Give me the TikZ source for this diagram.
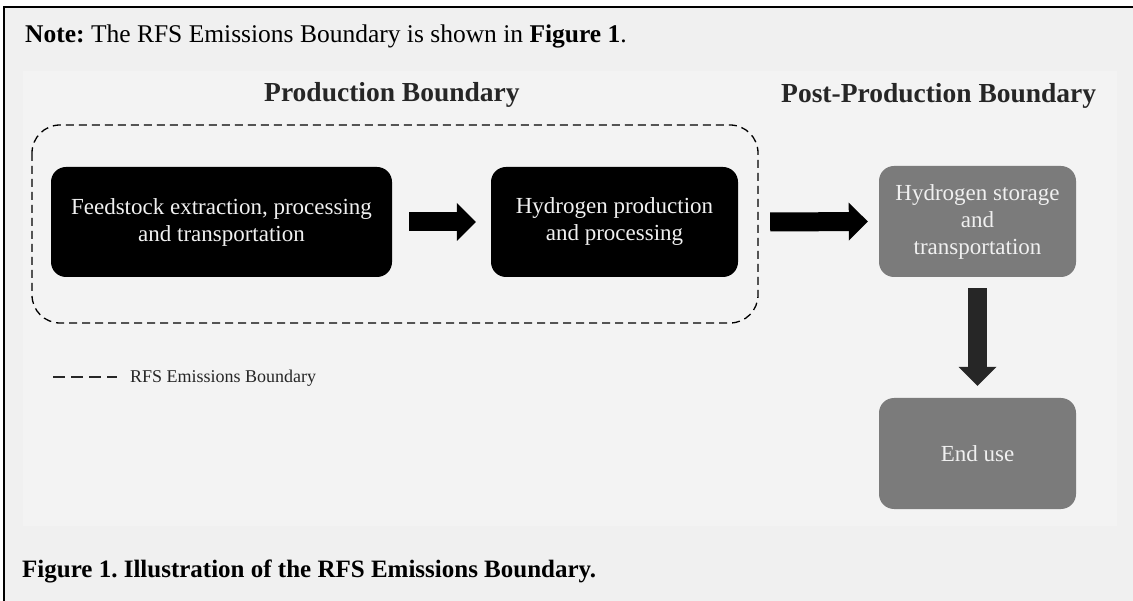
\documentclass[tikz,border=0pt]{standalone}
\usepackage{fontspec}
\setmainfont{Liberation Serif}
\usetikzlibrary{arrows.meta,calc}
\frenchspacing
\definecolor{bgout}{HTML}{F0F0F0}
\definecolor{panel}{HTML}{F3F3F3}
\definecolor{boxgray}{HTML}{7B7B7B}
\definecolor{darktext}{HTML}{262626}
\definecolor{lighttext}{HTML}{F0F0F0}
\tikzset{
  blackbox/.style={draw=none, fill=black, rounded corners=15pt, text=lighttext,
    align=center, inner sep=0pt, minimum height=110pt,
    font=\fontsize{23}{27}\selectfont},
  graybox/.style={draw=none, fill=boxgray, rounded corners=15pt, text=lighttext,
    align=center, inner sep=0pt, minimum width=197pt, minimum height=111pt,
    font=\fontsize{23}{27}\selectfont},
  blockarrow/.style={line width=19pt,
    -{Triangle[length=19pt, width=38pt, line width=0pt]}},
  heading/.style={anchor=base west, inner sep=0pt, text=darktext,
    font=\fontsize{27.5}{32}\selectfont\bfseries},
  boundary/.style={draw=black, line width=1.3pt, dash pattern=on 8pt off 5pt,
    rounded corners=28pt},
  plaintext/.style={anchor=base west, inner sep=0pt}
}
\begin{document}
\begin{tikzpicture}[x=1pt,y=-1pt]
\useasboundingbox (0,0) rectangle (1133,601);
\fill[white] (0,0) rectangle (1133,601);
\fill[bgout] (4,7) rectangle (1133,601);
\fill[panel] (23,71) rectangle (1117,526);
\draw[line width=1.6pt] (4,601) -- (4,7) -- (1133,7);

\node[plaintext, font=\fontsize{25.5}{30}\selectfont] (note) at (25,43)
  {\textbf{Note:} The RFS Emissions Boundary is shown in \textbf{Figure 1}.};

\node[heading] (hprod) at (264,102) {Production Boundary};
\node[heading] (hpost) at (781,103) {Post-Production Boundary};

\draw[boundary] (32,125) rectangle (758,323);

\node[blackbox, minimum width=341pt] (b1) at (221.5,222)
  {Feedstock extraction, processing\\and transportation};
\node[blackbox, minimum width=247pt] (b2) at (614.5,222)
  {Hydrogen production\\and processing};
\node[graybox] (b3) at (977.5,221.5)
  {Hydrogen storage\\and\\transportation};
\node[graybox] (b4) at (977.5,453.5) {End use};

\draw[blockarrow, black] ([xshift=17pt]b1.east) -- ([xshift=-15pt]b2.west);
\draw[blockarrow, black] ([xshift=32pt]b2.east) -- ([xshift=-11pt]b3.west);
\draw[blockarrow, darktext] ([yshift=-11pt]b3.south) -- ([yshift=12pt]b4.north);

\coordinate (legA) at (53,377);
\coordinate (legB) at (117,377);
\draw[darktext, line width=1.5pt, dash pattern=on 12pt off 6pt] (legA) -- (legB);
\node[plaintext, text=darktext, font=\fontsize{18}{22}\selectfont] (legtext) at (130,383)
  {RFS Emissions Boundary};

\node[plaintext, font=\fontsize{25}{30}\selectfont\bfseries] (caption) at (22,577)
  {Figure 1. Illustration of the RFS Emissions Boundary.};
\end{tikzpicture}
\end{document}
